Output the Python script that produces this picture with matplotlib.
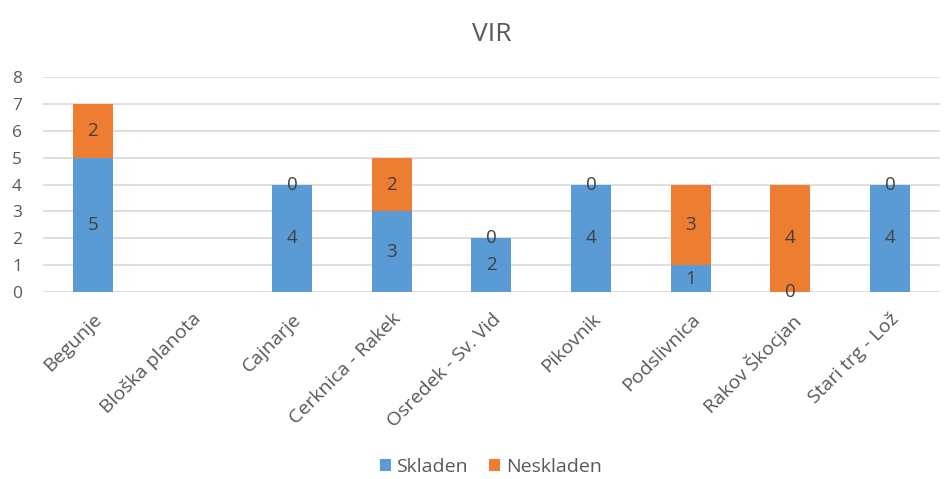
import numpy as np
import matplotlib
matplotlib.use('Agg')
import matplotlib.pyplot as plt

# Chart data
categories = ['Begunje', 'Bloška planota', 'Cajnarje', 'Cerknica - Rakek',
              'Osredek - Sv. Vid', 'Pikovnik', 'Podslivnica',
              'Rakov Škocjan', 'Stari trg - Lož']
skladen = [5, np.nan, 4, 3, 2, 4, 1, 0, 4]
neskladen = [2, np.nan, 0, 2, 0, 0, 3, 4, 0]
y_ticks = [0, 1, 2, 3, 4, 5, 6, 7, 8]

# Styles
blue = '#5B9BD5'
orange = '#ED7D31'
text_grey = '#595959'
grid_grey = '#D9D9D9'
plt.rcParams['font.family'] = ['Open Sans', 'DejaVu Sans']

fig = plt.figure(figsize=(9.44, 4.79), dpi=100)
ax = fig.add_axes([0.0455, 0.3904, 0.950, 0.4488])

x = np.arange(len(categories))
width = 0.4
sk = np.array(skladen, dtype=float)
ns = np.array(neskladen, dtype=float)

ax.bar(x, sk, width, color=blue, label='Skladen', zorder=3)
ax.bar(x, ns, width, bottom=sk, color=orange, label='Neskladen', zorder=3)

# Data labels in the middle of each segment
label_kws = {'ha': 'center', 'va': 'center', 'fontsize': 13.5,
             'color': '#404040', 'zorder': 4}
for i in range(len(categories)):
    if np.isnan(sk[i]):
        continue
    ax.text(x[i], sk[i] / 2, f'{int(sk[i])}', **label_kws)
    ax.text(x[i], sk[i] + ns[i] / 2, f'{int(ns[i])}', **label_kws)

ax.set_xlim(-0.5, len(categories) - 0.5)
ax.set_ylim(0, 8)
ax.set_yticks(y_ticks)
ax.yaxis.grid(True, color=grid_grey, lw=1.2, zorder=0)
ax.set_axisbelow(True)
for side in ['top', 'right', 'left', 'bottom']:
    ax.spines[side].set_visible(False)
ax.tick_params(axis='y', length=0, pad=15, labelsize=12.5,
               labelcolor=text_grey)
ax.tick_params(axis='x', length=0, pad=13, labelsize=14,
               labelcolor=text_grey)
ax.set_xticks(x)
ax.set_xticklabels(categories, rotation=45, ha='right',
                   rotation_mode='anchor')

ax.set_title('VIR', fontsize=19, color=text_grey, pad=26)

fig.legend(loc='center', bbox_to_anchor=(0.52, 0.025), ncol=2,
           frameon=False, fontsize=14, labelcolor=text_grey,
           handlelength=0.55, handleheight=0.55, handletextpad=0.3,
           columnspacing=1.1)

fig.savefig('out.png', dpi=100)
